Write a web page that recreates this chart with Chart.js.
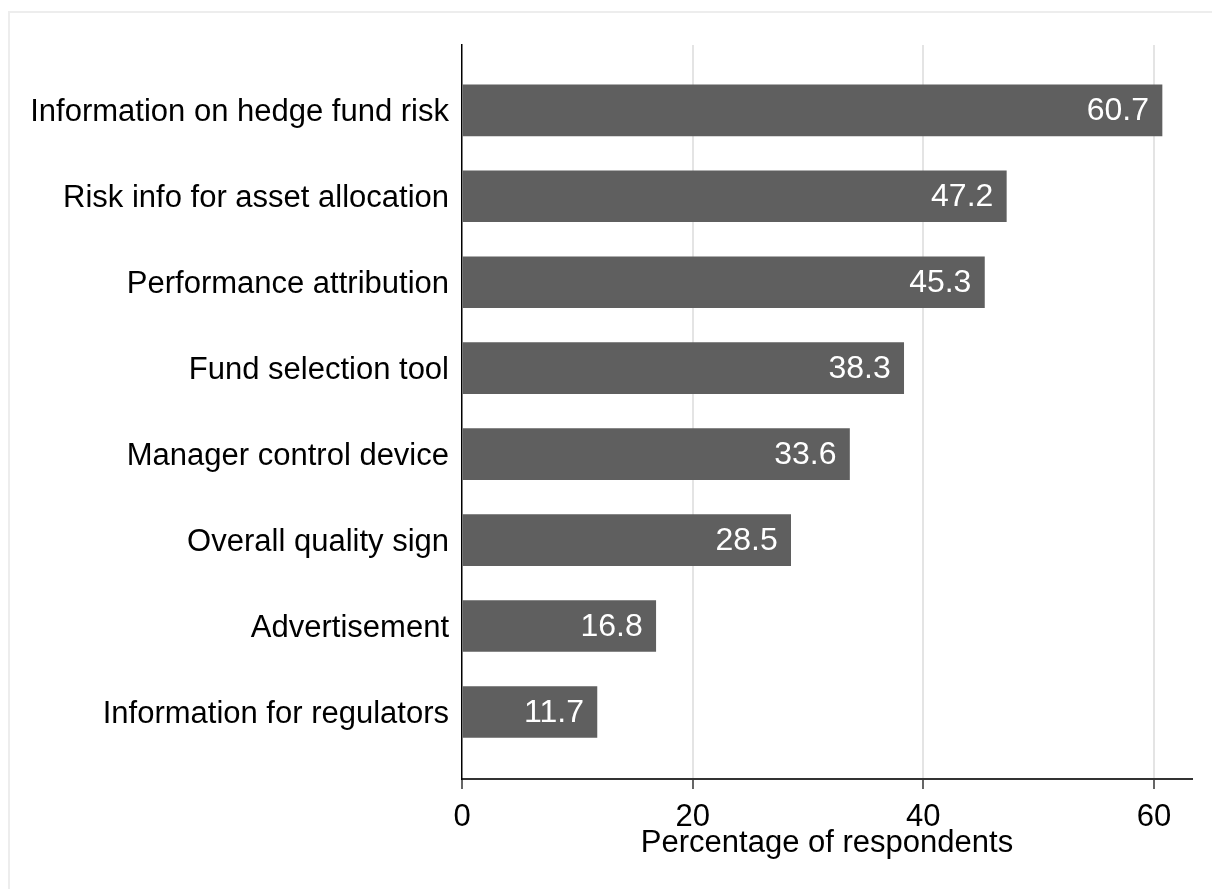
<!DOCTYPE html>
<html>
<head>
<meta charset="utf-8">
<script src="https://cdn.jsdelivr.net/npm/chart.js@4"></script>
<style>
  html, body { margin: 0; padding: 0; background: #ffffff; }
  #wrap { position: relative; width: 1212px; height: 889px; }
  #frame { position: absolute; left: 8px; top: 11px; right: 0; bottom: 0;
           border-top: 2px solid #ededed; border-left: 2px solid #ededed; }
  canvas { position: absolute; left: 0; top: 0; }
</style>
</head>
<body>
<div id="wrap">
  <div id="frame"></div>
  <canvas id="c" width="1212" height="889"></canvas>
</div>
<script>
const categories = [
  "Information on hedge fund risk",
  "Risk info for asset allocation",
  "Performance attribution",
  "Fund selection tool",
  "Manager control device",
  "Overall quality sign",
  "Advertisement",
  "Information for regulators"
];
const values = [60.7, 47.2, 45.3, 38.3, 33.6, 28.5, 16.8, 11.7];
const xTicks = [0, 20, 40, 60];
const xTitle = "Percentage of respondents";

const FONT = "'Liberation Sans', Arial, sans-serif";
const FS = 31;

const valueLabels = {
  id: 'valueLabels',
  afterDatasetsDraw(chart) {
    const ctx = chart.ctx;
    const meta = chart.getDatasetMeta(0);
    ctx.save();
    ctx.fillStyle = '#ffffff';
    ctx.font = '32px ' + FONT;
    ctx.textAlign = 'right';
    ctx.textBaseline = 'middle';
    meta.data.forEach((bar, i) => {
      ctx.fillText(values[i].toFixed(1), bar.x - 13, bar.y + 1);
    });
    ctx.restore();
  }
};

new Chart(document.getElementById('c'), {
  type: 'bar',
  data: {
    datasets: [{
      data: categories.map((c, i) => ({ x: values[i], y: i })),
      backgroundColor: '#5f5f5f',
      borderWidth: 0,
      barThickness: 51
    }]
  },
  options: {
    indexAxis: 'y',
    responsive: false,
    animation: false,
    devicePixelRatio: 1,
    layout: { padding: { top: 45, right: 20, left: 0, bottom: 0 } },
    plugins: { legend: { display: false }, tooltip: { enabled: false } },
    scales: {
      x: {
        type: 'linear',
        min: 0,
        max: 63.3,
        afterBuildTicks(scale) { scale.ticks = xTicks.map(v => ({ value: v })); },
        afterFit(scale) { scale.height = 110; },
        grid: {
          color: (ctx) => ctx.tick && ctx.tick.value === 0 ? 'rgba(0,0,0,0)' : '#e4e4e4',
          lineWidth: 2,
          drawTicks: true,
          tickLength: 10,
          tickColor: '#333333',
          tickWidth: 1.5
        },
        border: { display: true, color: '#333333', width: 2 },
        ticks: {
          color: '#000000',
          font: { family: FONT, size: FS },
          padding: 10,
          maxRotation: 0,
          callback: (v) => String(v)
        },
        title: {
          display: true,
          text: xTitle,
          color: '#000000',
          font: { family: FONT, size: FS },
          padding: { top: 0, bottom: 27 }
        }
      },
      y: {
        type: 'linear',
        reverse: true,
        offset: false,
        min: -0.76,
        max: 7.78,
        afterBuildTicks(scale) { scale.ticks = categories.map((c, i) => ({ value: i })); },
        afterFit(scale) { scale.width = 462; },
        grid: { display: false, drawTicks: false },
        border: { display: true, color: '#000000', width: 1.5 },
        ticks: {
          color: '#000000',
          font: { family: FONT, size: FS },
          padding: 13,
          labelOffset: 2,
          autoSkip: false,
          callback: (v) => categories[v]
        }
      }
    }
  },
  plugins: [valueLabels]
});
</script>
</body>
</html>
